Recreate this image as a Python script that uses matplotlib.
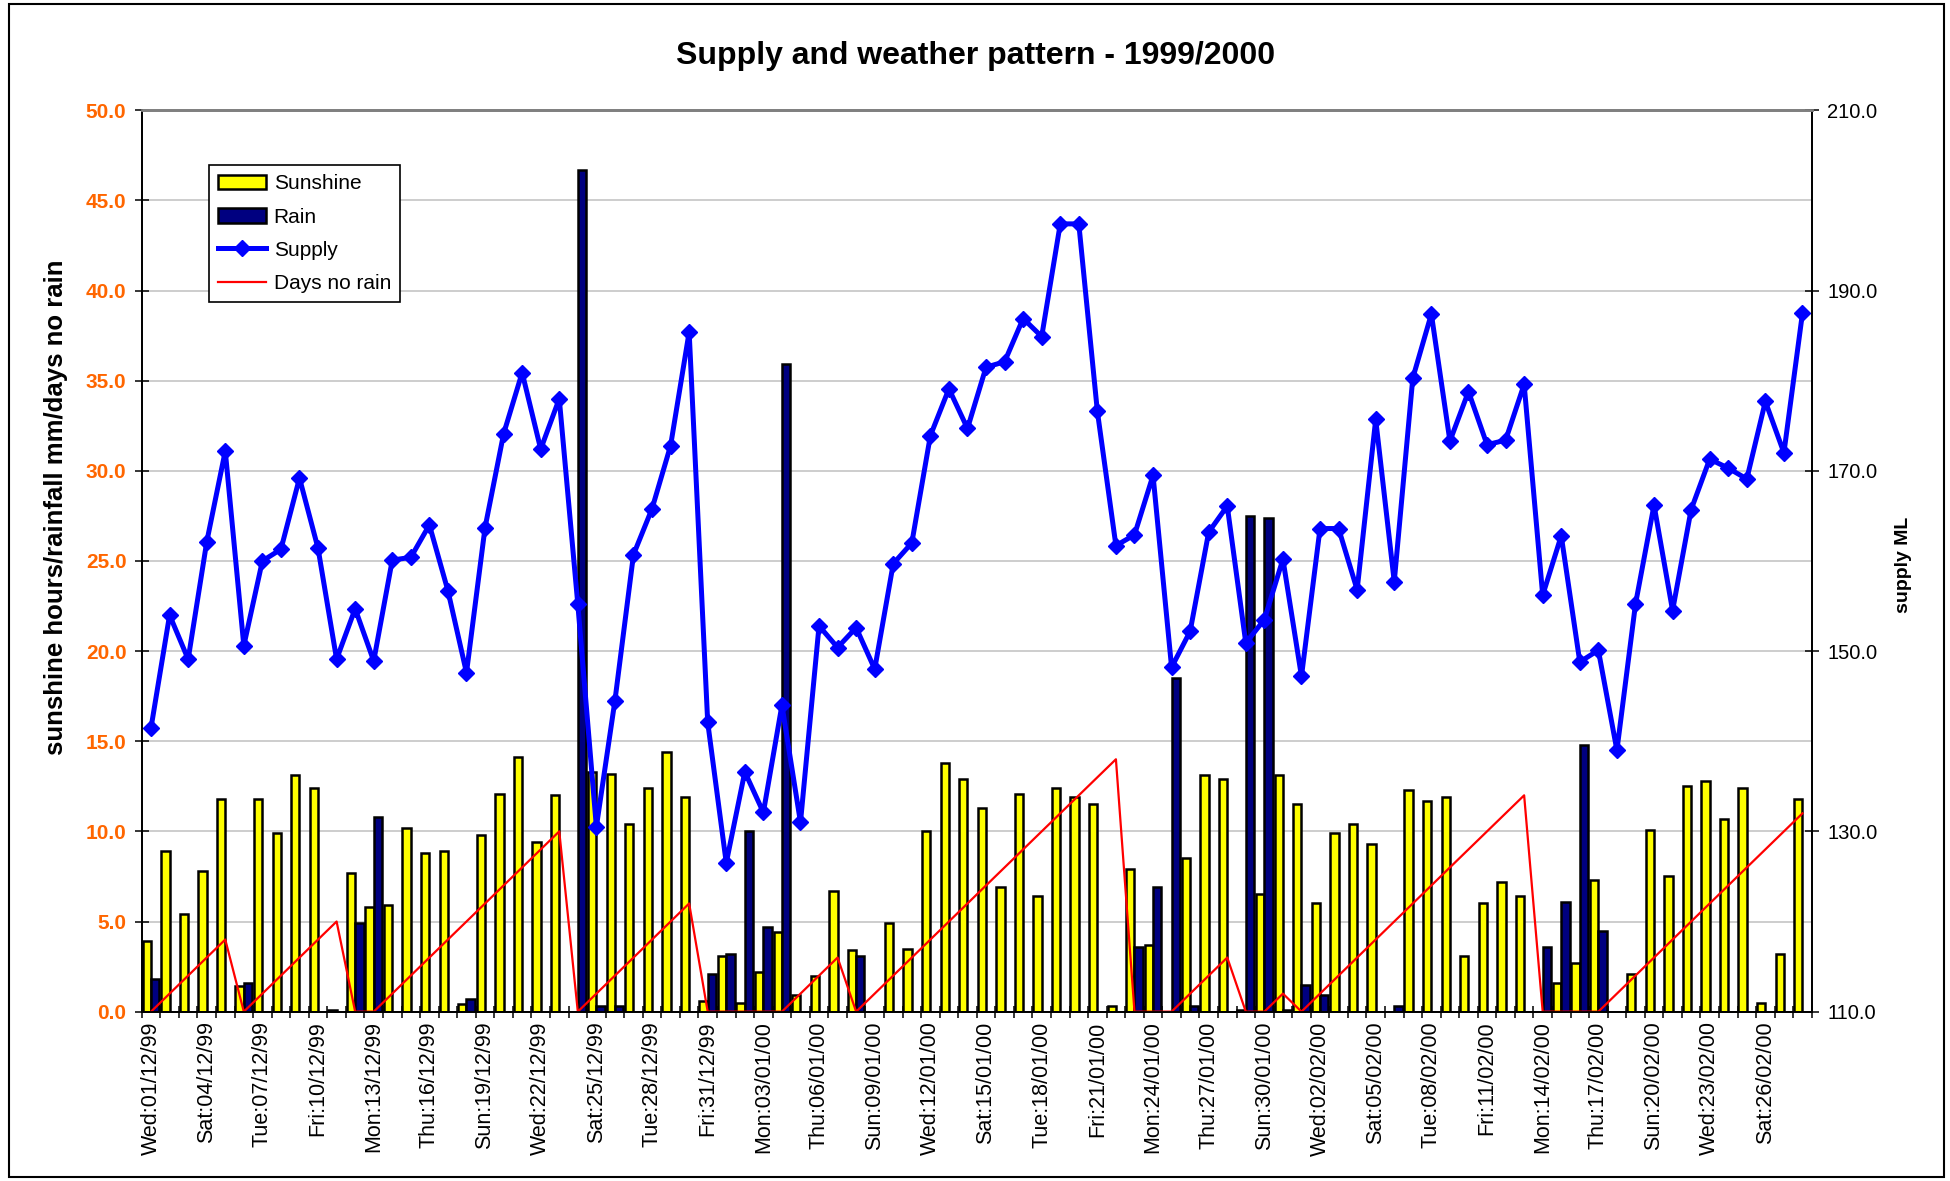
import numpy as np
import matplotlib
matplotlib.use("Agg")
import matplotlib.pyplot as plt
from matplotlib.patches import Patch, Rectangle
from matplotlib.lines import Line2D

plt.rcParams['font.family'] = ['Liberation Sans', 'DejaVu Sans']

# daily values, 01/12/99 .. 28/02/00
sunshine = [3.9, 8.9, 5.4, 7.8, 11.8, 1.4, 11.8, 9.9, 13.1, 12.4,
            0.1, 7.7, 5.8, 5.9, 10.2, 8.8, 8.9, 0.4, 9.8, 12.1,
            14.1, 9.4, 12.0, 0.0, 13.3, 13.2, 10.4, 12.4, 14.4, 11.9,
            0.6, 3.1, 0.5, 2.2, 4.4, 0.9, 2.0, 6.7, 3.4, 0.0,
            4.9, 3.5, 10.0, 13.8, 12.9, 11.3, 6.9, 12.1, 6.4, 12.4,
            11.9, 11.5, 0.3, 7.9, 3.7, 0.0, 8.5, 13.1, 12.9, 0.1,
            6.5, 13.1, 11.5, 6.0, 9.9, 10.4, 9.3, 0.0, 12.3, 11.7,
            11.9, 3.1, 6.0, 7.2, 6.4, 0.0, 1.6, 2.7, 7.3, 0.0,
            2.1, 10.1, 7.5, 12.5, 12.8, 10.7, 12.4, 0.5, 3.2, 11.8]

rain = [1.8, 0, 0, 0, 0, 1.6, 0, 0, 0, 0,
        0, 4.9, 10.8, 0, 0, 0, 0, 0.7, 0, 0,
        0, 0, 0, 46.7, 0.3, 0.3, 0, 0, 0, 0,
        2.1, 3.2, 10.0, 4.7, 35.9, 0, 0, 0, 3.1, 0,
        0, 0, 0, 0, 0, 0, 0, 0, 0, 0,
        0, 0, 0, 3.6, 6.9, 18.5, 0.3, 0, 0, 27.5,
        27.4, 0.1, 1.5, 0.9, 0, 0, 0, 0.3, 0, 0,
        0, 0, 0, 0, 0, 3.6, 6.1, 14.8, 4.5, 0,
        0, 0, 0, 0, 0, 0, 0, 0, 0, 0]

supply = [141.5, 154.0, 149.1, 162.1, 172.2, 150.6, 160.0, 161.3, 169.2, 161.4,
          149.1, 154.7, 148.9, 160.1, 160.4, 164.0, 156.7, 147.6, 163.7, 174.1,
          180.9, 172.4, 178.0, 155.2, 130.5, 144.5, 160.7, 165.8, 172.8, 185.4,
          142.1, 126.5, 136.6, 132.1, 144.0, 131.0, 152.8, 150.4, 152.6, 148.0,
          159.7, 162.0, 173.9, 179.1, 174.7, 181.5, 182.1, 186.9, 184.9, 197.4,
          197.4, 176.6, 161.7, 162.9, 169.5, 148.2, 152.2, 163.2, 166.1, 150.9,
          153.5, 160.2, 147.2, 163.6, 163.6, 156.8, 175.7, 157.7, 180.3, 187.4,
          173.3, 178.8, 172.9, 173.4, 179.6, 156.2, 162.8, 148.8, 150.1, 139.0,
          155.2, 166.2, 154.5, 165.7, 171.3, 170.3, 169.1, 177.7, 172.0, 187.5]

days_no_rain = [0, 1, 2, 3, 4, 0, 1, 2, 3, 4,
                5, 0, 0, 1, 2, 3, 4, 5, 6, 7,
                8, 9, 10, 0, 1, 2, 3, 4, 5, 6,
                0, 0, 0, 0, 0, 1, 2, 3, 0, 1,
                2, 3, 4, 5, 6, 7, 8, 9, 10, 11,
                12, 13, 14, 0, 0, 0, 1, 2, 3, 0,
                0, 1, 0, 1, 2, 3, 4, 5, 6, 7,
                8, 9, 10, 11, 12, 0, 0, 0, 0, 1,
                2, 3, 4, 5, 6, 7, 8, 9, 10, 11]

tick_labels = ['Wed:01/12/99', 'Sat:04/12/99', 'Tue:07/12/99', 'Fri:10/12/99',
               'Mon:13/12/99', 'Thu:16/12/99', 'Sun:19/12/99', 'Wed:22/12/99',
               'Sat:25/12/99', 'Tue:28/12/99', 'Fri:31/12/99', 'Mon:03/01/00',
               'Thu:06/01/00', 'Sun:09/01/00', 'Wed:12/01/00', 'Sat:15/01/00',
               'Tue:18/01/00', 'Fri:21/01/00', 'Mon:24/01/00', 'Thu:27/01/00',
               'Sun:30/01/00', 'Wed:02/02/00', 'Sat:05/02/00', 'Tue:08/02/00',
               'Fri:11/02/00', 'Mon:14/02/00', 'Thu:17/02/00', 'Sun:20/02/00',
               'Wed:23/02/00', 'Sat:26/02/00']

n = len(sunshine)
x = np.arange(n)

fig = plt.figure(figsize=(19.5, 11.81), dpi=100)
ax = fig.add_axes([0.0727, 0.1434, 0.8564, 0.7632])
ax2 = ax.twinx()

ax.set_axisbelow(True)
ax.yaxis.grid(True, color='#c0c0c0', lw=1.1)
ax.bar(x - 0.225, sunshine, 0.45, color='#ffff00', edgecolor='black', linewidth=1.8, zorder=2)
ax.bar(x + 0.225, rain, 0.45, color='#000080', edgecolor='black', linewidth=1.8, zorder=2)
ax.plot(x, days_no_rain, color='#ff0000', lw=1.6, zorder=3)

ax2.plot(x, supply, color='#0000ff', lw=3.6, marker='D', ms=8.5, zorder=3)

ax.set_xlim(-0.5, n - 0.5)
ax.set_ylim(0, 50)
ax2.set_ylim(110, 210)

# left axis
ax.set_yticks(np.arange(0, 50.1, 5))
ax.set_yticklabels([f"{v:.1f}" for v in np.arange(0, 50.1, 5)],
                   color='#ff6600', fontweight='bold', fontsize=15)
ax.tick_params(axis='y', direction='inout', length=10, width=1.1, pad=6)

# right axis
ax2.set_yticks(np.arange(110, 210.1, 20))
ax2.set_yticklabels([f"{v:.1f}" for v in np.arange(110, 210.1, 20)], fontsize=14.5)
ax2.tick_params(axis='y', direction='inout', length=10, width=1.1, pad=6)

# category axis: ticks between days, label every 3rd day
ax.set_xticks(np.arange(-0.5, n, 1))
ax.set_xticklabels([])
ax.tick_params(axis='x', which='major', direction='inout', length=9, width=1.1)
ax.set_xticks(x[::3], minor=True)
ax.set_xticklabels(tick_labels, minor=True, rotation=90, fontsize=15.5)
ax.tick_params(axis='x', which='minor', length=0, pad=7)

for a in (ax, ax2):
    a.spines['top'].set_color('#808080')
    a.spines['top'].set_linewidth(2)
    for s in ('left', 'right', 'bottom'):
        a.spines[s].set_color('black')
        a.spines[s].set_linewidth(1.3)

handles = [Patch(facecolor='#ffff00', edgecolor='black', linewidth=1.8),
           Patch(facecolor='#000080', edgecolor='black', linewidth=1.8),
           Line2D([], [], color='#0000ff', lw=3.6, marker='D', ms=8.5),
           Line2D([], [], color='#ff0000', lw=1.6)]
leg = ax2.legend(handles, ['Sunshine', 'Rain', 'Supply', 'Days no rain'],
                 loc='upper left', bbox_to_anchor=(0.0403, 0.9393), borderaxespad=0,
                 fontsize=15, fancybox=False, edgecolor='black', framealpha=1,
                 handlelength=2.3, handletextpad=0.35, labelspacing=0.68, borderpad=0.45)
leg.get_frame().set_linewidth(1.2)

fig.text(0.5005, 0.9526, 'Supply and weather pattern - 1999/2000',
         ha='center', va='center', fontsize=23, fontweight='bold')
fig.text(0.0287, 0.5707, 'sunshine hours/rainfall mm/days no rain', rotation=90,
         ha='center', va='center', fontsize=18.5, fontweight='bold')
fig.text(0.9759, 0.5216, 'supply ML', rotation=90,
         ha='center', va='center', fontsize=14, fontweight='bold')

fig.add_artist(Rectangle((0.0045, 0.0034), 0.9924, 0.9932, transform=fig.transFigure,
                         fill=False, edgecolor='black', linewidth=1.5))

fig.savefig('out.png', dpi=100)
